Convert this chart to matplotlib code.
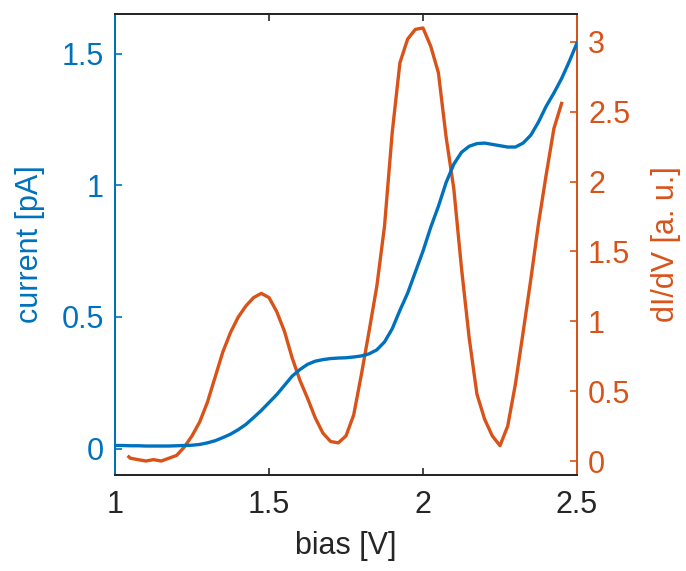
import matplotlib
matplotlib.use("Agg")
import matplotlib.pyplot as plt

plt.rcParams['font.family'] = ['Liberation Sans', 'DejaVu Sans']

# current (left axis)
bias_i = [1.000, 1.025, 1.050, 1.075, 1.100, 1.125, 1.150, 1.175, 1.200, 1.225,
          1.250, 1.275, 1.300, 1.325, 1.350, 1.375, 1.400, 1.425, 1.450, 1.475,
          1.500, 1.525, 1.550, 1.575, 1.600, 1.625, 1.650, 1.675, 1.700, 1.725,
          1.750, 1.775, 1.800, 1.825, 1.850, 1.875, 1.900, 1.925, 1.950, 1.975,
          2.000, 2.025, 2.050, 2.075, 2.100, 2.125, 2.150, 2.175, 2.200, 2.225,
          2.250, 2.275, 2.300, 2.325, 2.350, 2.375, 2.400, 2.425, 2.450, 2.475, 2.500]
current = [0.012, 0.012, 0.011, 0.011, 0.010, 0.010, 0.010, 0.010, 0.011, 0.012,
           0.013, 0.016, 0.022, 0.030, 0.042, 0.055, 0.072, 0.092, 0.118, 0.145,
           0.175, 0.205, 0.240, 0.275, 0.300, 0.320, 0.332, 0.338, 0.342, 0.344,
           0.345, 0.348, 0.352, 0.360, 0.375, 0.405, 0.455, 0.525, 0.590, 0.670,
           0.750, 0.840, 0.920, 1.010, 1.080, 1.125, 1.148, 1.158, 1.160, 1.155,
           1.150, 1.145, 1.145, 1.160, 1.190, 1.240, 1.300, 1.350, 1.405, 1.470, 1.540]

# dI/dV (right axis)
bias_g = [1.045, 1.050, 1.075, 1.100, 1.125, 1.150, 1.175, 1.200, 1.225, 1.250,
          1.275, 1.300, 1.325, 1.350, 1.375, 1.400, 1.425, 1.450, 1.475, 1.500,
          1.525, 1.550, 1.575, 1.600, 1.625, 1.650, 1.675, 1.700, 1.725, 1.750,
          1.775, 1.800, 1.825, 1.850, 1.875, 1.900, 1.925, 1.950, 1.975, 2.000,
          2.025, 2.050, 2.075, 2.100, 2.125, 2.150, 2.175, 2.200, 2.225, 2.250,
          2.275, 2.300, 2.325, 2.350, 2.375, 2.400, 2.425, 2.450]
didv = [0.03, 0.02, 0.01, 0.00, 0.01, 0.00, 0.02, 0.04, 0.10, 0.18,
        0.28, 0.42, 0.60, 0.78, 0.92, 1.03, 1.11, 1.17, 1.20, 1.17,
        1.07, 0.93, 0.74, 0.58, 0.45, 0.31, 0.20, 0.14, 0.13, 0.18,
        0.33, 0.62, 0.93, 1.25, 1.68, 2.35, 2.85, 3.02, 3.09, 3.10,
        2.97, 2.78, 2.32, 1.95, 1.38, 0.88, 0.48, 0.30, 0.18, 0.11,
        0.25, 0.55, 0.92, 1.30, 1.70, 2.05, 2.38, 2.56]

xticks = [1, 1.5, 2, 2.5]
xtick_labels = ['1', '1.5', '2', '2.5']
yticks_l = [0, 0.5, 1, 1.5]
yticks_l_labels = ['0', '0.5', '1', '1.5']
yticks_r = [0, 0.5, 1, 1.5, 2, 2.5, 3]
yticks_r_labels = ['0', '0.5', '1', '1.5', '2', '2.5', '3']

BLUE = '#0072BD'
ORANGE = '#D95319'
GRAY = '#262626'
FS = 22

fig = plt.figure(figsize=(6.86, 5.71), dpi=100)
ax = fig.add_axes([115/686, 1-475/571, (577-115)/686, (475-14)/571])
ax2 = ax.twinx()

ax.plot(bias_i, current, color=BLUE, lw=2.4, zorder=3)
ax2.plot(bias_g, didv, color=ORANGE, lw=2.4)

ax.set_xlim(1, 2.5)
ax.set_ylim(-0.1, 1.65)
ax2.set_ylim(-0.1, 3.2)

ax.set_xticks(xticks)
ax.set_xticklabels(xtick_labels)
ax.set_yticks(yticks_l)
ax.set_yticklabels(yticks_l_labels)
ax2.set_yticks(yticks_r)
ax2.set_yticklabels(yticks_r_labels)

ax.tick_params(axis='x', direction='in', length=5, width=1.2, colors=GRAY,
               labelsize=FS, pad=11, top=True)
ax.tick_params(axis='y', direction='in', length=5, width=1.2, colors=BLUE,
               labelsize=FS, pad=8)
ax2.tick_params(axis='y', direction='in', length=5, width=1.2, colors=ORANGE,
                labelsize=FS, pad=8)

for a in (ax, ax2):
    for s in a.spines.values():
        s.set_linewidth(1.4)
    a.spines['top'].set_color(GRAY)
    a.spines['bottom'].set_color(GRAY)
    a.spines['left'].set_color(BLUE)
    a.spines['right'].set_color(ORANGE)

ax.set_xlabel('bias [V]', fontsize=FS, color=GRAY, labelpad=8)
ax.set_ylabel('current [pA]', fontsize=FS, color=BLUE, labelpad=12)
ax2.set_ylabel('dI/dV [a. u.]', fontsize=FS, color=ORANGE, labelpad=15)

ax.set_zorder(ax2.get_zorder() + 1)
ax.patch.set_visible(False)

fig.savefig('out.png', dpi=100)
